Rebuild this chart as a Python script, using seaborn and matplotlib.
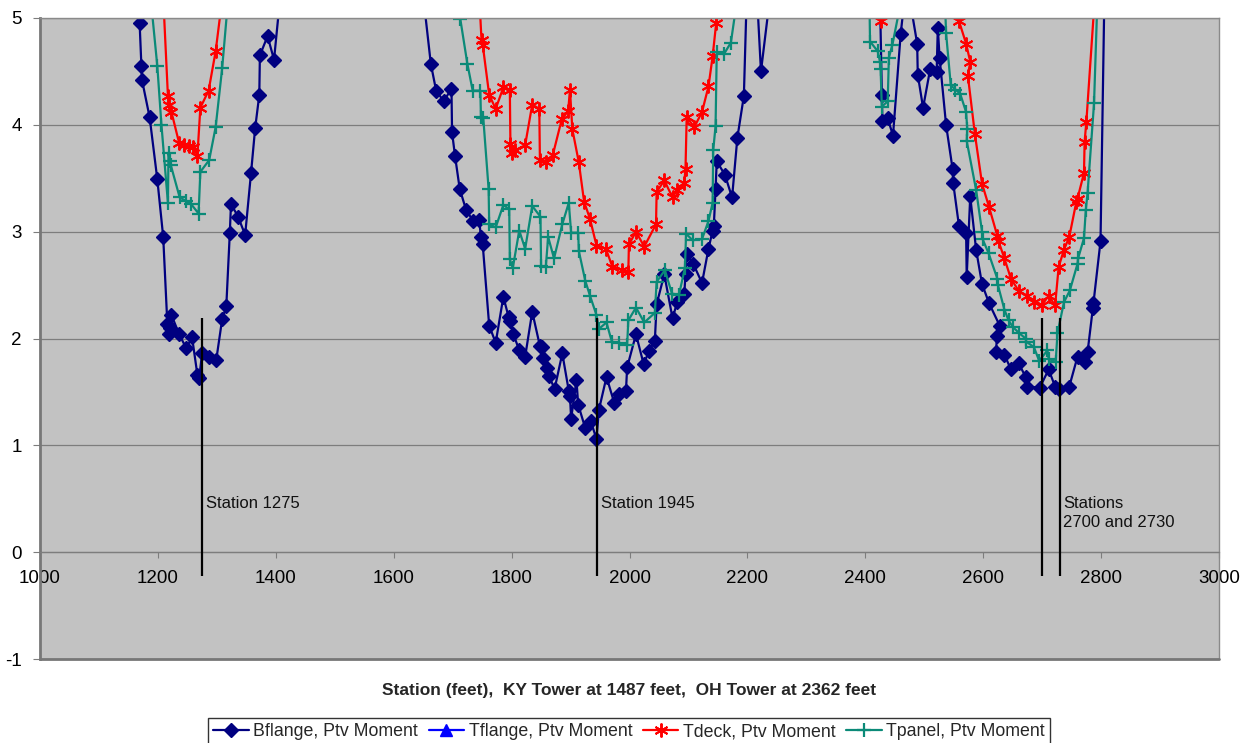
import matplotlib
matplotlib.use("Agg")
import matplotlib.pyplot as plt
import seaborn as sns

# Station (feet) and ratio values for each gauge series
bflange_station = [1167, 1169, 1172, 1173, 1186, 1199, 1209, 1216, 1218, 1220, 1223, 1236, 1248,
                   1258, 1267, 1270, 1275, 1287, 1299, 1309, 1316, 1322, 1324, 1336, 1348, 1358,
                   1365, 1372, 1373, 1386, 1397, 1420,
                   1640, 1663, 1672, 1685, 1698, 1699, 1704, 1712, 1723, 1735, 1745, 1748, 1751,
                   1762, 1773, 1786, 1795, 1798, 1803, 1813, 1823, 1835, 1848, 1851, 1853, 1860,
                   1863, 1873, 1886, 1897, 1899, 1901, 1910, 1913, 1925, 1934, 1944, 1948, 1961,
                   1974, 1983, 1994, 1996, 2011, 2024, 2033, 2043, 2046, 2059, 2073, 2081, 2093,
                   2095, 2097, 2108, 2123, 2134, 2141, 2143, 2146, 2148, 2162, 2174, 2183, 2194,
                   2205, 2223, 2245,
                   2420, 2428, 2429, 2438, 2447, 2460, 2470, 2488, 2489, 2498, 2510, 2521, 2523,
                   2526, 2537, 2548, 2549, 2559, 2571, 2572, 2578, 2588, 2598, 2610, 2628, 2623,
                   2622, 2636, 2647, 2660, 2672, 2675, 2696, 2711, 2722, 2728, 2746, 2760, 2773,
                   2777, 2786, 2787, 2799, 2815]
bflange_value = [8.0, 4.95, 4.55, 4.42, 4.07, 3.49, 2.95, 2.14, 2.04, 2.10, 2.22, 2.04, 1.91,
                 2.01, 1.66, 1.63, 1.86, 1.83, 1.80, 2.18, 2.30, 2.99, 3.26, 3.14, 2.97, 3.55,
                 3.97, 4.28, 4.65, 4.83, 4.61, 5.9,
                 5.7, 4.57, 4.32, 4.22, 4.34, 3.93, 3.71, 3.40, 3.20, 3.10, 3.11, 2.95, 2.88,
                 2.12, 1.96, 2.39, 2.20, 2.16, 2.04, 1.89, 1.83, 2.25, 1.93, 1.92, 1.82, 1.72,
                 1.65, 1.53, 1.86, 1.51, 1.46, 1.25, 1.61, 1.38, 1.16, 1.23, 1.06, 1.33, 1.64,
                 1.40, 1.48, 1.51, 1.73, 2.04, 1.76, 1.88, 1.98, 2.32, 2.60, 2.19, 2.34, 2.42,
                 2.60, 2.79, 2.70, 2.52, 2.84, 3.01, 3.05, 3.40, 3.66, 3.53, 3.32, 3.88, 4.27,
                 6.4, 4.50, 5.5,
                 6.6, 4.28, 4.04, 4.06, 3.90, 4.85, 5.35, 4.76, 4.47, 4.16, 4.52, 4.49, 4.91,
                 4.63, 4.00, 3.59, 3.46, 3.05, 2.99, 2.58, 3.33, 2.83, 2.51, 2.33, 2.12, 2.02,
                 1.87, 1.85, 1.71, 1.77, 1.64, 1.55, 1.54, 1.71, 1.55, 1.53, 1.55, 1.83, 1.78,
                 1.87, 2.29, 2.33, 2.91, 8.5]

tflange_station = []
tflange_value = []

tdeck_station = [1205, 1217, 1219, 1223, 1236, 1244, 1253, 1260, 1267, 1272, 1286, 1298, 1315,
                 1740, 1749, 1751, 1762, 1773, 1786, 1797, 1798, 1800, 1806, 1823, 1835, 1847,
                 1848, 1858, 1870, 1885, 1896, 1899, 1903, 1914, 1923, 1933, 1944, 1960, 1971,
                 1987, 1998, 1999, 2011, 2025, 2045, 2046, 2059, 2073, 2081, 2093, 2095, 2097,
                 2110, 2123, 2134, 2141, 2147, 2155,
                 2420, 2427, 2435,
                 2550, 2559, 2571, 2578, 2574, 2586, 2598, 2610, 2624, 2626, 2636, 2647, 2661,
                 2675, 2686, 2699, 2711, 2722, 2728, 2737, 2746, 2758, 2760, 2771, 2772, 2775,
                 2795]
tdeck_value = [5.66, 4.27, 4.19, 4.12, 3.83, 3.81, 3.80, 3.79, 3.71, 4.16, 4.32, 4.69, 5.44,
               5.74, 4.79, 4.75, 4.28, 4.15, 4.35, 4.33, 3.82, 3.74, 3.76, 3.81, 4.19, 4.15,
               3.67, 3.65, 3.72, 4.05, 4.13, 4.33, 3.96, 3.65, 3.28, 3.12, 2.87, 2.84, 2.67,
               2.64, 2.62, 2.88, 3.00, 2.86, 3.07, 3.37, 3.48, 3.32, 3.39, 3.46, 3.59, 4.07,
               3.98, 4.12, 4.36, 4.64, 4.95, 6.0,
               6.0, 4.97, 6.0,
               5.5, 4.97, 4.76, 4.59, 4.46, 3.91, 3.45, 3.23, 2.96, 2.91, 2.75, 2.56, 2.44,
               2.40, 2.34, 2.31, 2.40, 2.31, 2.67, 2.83, 2.95, 3.28, 3.31, 3.55, 3.84, 4.03,
               5.65]

tpanel_station = [1185, 1199, 1206, 1217, 1218, 1220, 1222, 1237, 1247, 1256, 1269, 1272, 1287,
                  1298, 1309, 1325,
                  1705, 1713, 1725, 1734, 1747, 1748, 1752, 1761, 1762, 1773, 1786, 1796, 1797,
                  1802, 1813, 1823, 1835, 1849, 1850, 1858, 1862, 1872, 1886, 1897, 1901, 1913,
                  1914, 1925, 1933, 1944, 1948, 1961, 1970, 1983, 1996, 1998, 2011, 2025, 2043,
                  2046, 2060, 2072, 2084, 2094, 2096, 2107, 2123, 2134, 2141, 2142, 2146, 2148,
                  2160, 2172, 2185,
                  2405, 2408, 2421, 2425, 2426, 2428, 2438, 2440, 2446, 2465,
                  2530, 2537, 2545, 2553, 2561, 2571, 2573, 2572, 2588, 2598, 2599, 2609, 2624,
                  2625, 2636, 2643, 2650, 2661, 2672, 2673, 2686, 2695, 2709, 2711, 2723, 2726,
                  2737, 2747, 2760, 2761, 2771, 2774, 2777, 2788, 2800]
tpanel_value = [5.34, 4.55, 4.00, 3.27, 3.74, 3.66, 3.62, 3.32, 3.29, 3.26, 3.17, 3.56, 3.67,
                3.98, 4.53, 5.55,
                6.0, 4.99, 4.57, 4.32, 4.32, 4.07, 4.06, 3.40, 3.07, 3.04, 3.25, 3.21, 2.74,
                2.66, 3.01, 2.84, 3.24, 3.14, 2.68, 2.67, 2.95, 2.75, 3.07, 3.27, 2.99, 2.99,
                2.82, 2.54, 2.40, 2.22, 2.09, 2.15, 1.97, 1.96, 1.94, 2.17, 2.29, 2.15, 2.24,
                2.53, 2.64, 2.42, 2.41, 2.66, 2.98, 2.92, 2.93, 3.10, 3.27, 3.76, 3.99, 4.68,
                4.66, 4.77, 5.27,
                6.0, 4.78, 4.69, 4.59, 4.52, 4.17, 4.22, 4.63, 4.75, 5.28,
                6.0, 4.86, 4.37, 4.33, 4.29, 4.12, 3.96, 3.85, 3.39, 3.00, 2.93, 2.80, 2.56,
                2.50, 2.27, 2.17, 2.11, 2.05, 2.00, 1.97, 1.92, 1.79, 1.89, 1.81, 1.78, 2.05,
                2.34, 2.45, 2.70, 2.75, 2.94, 3.20, 3.36, 4.20, 6.24]

# Marked stations
marked_stations = [1275, 1945, 2700, 2730]
station_notes = [(1275, ["Station 1275"]), (1945, ["Station 1945"]),
                 (2730, ["Stations", "2700 and 2730"])]

x_ticks = [1000, 1200, 1400, 1600, 1800, 2000, 2200, 2400, 2600, 2800, 3000]
y_ticks = [-1, 0, 1, 2, 3, 4, 5]

sns.set_theme(style="white")
regular = ["Liberation Sans", "DejaVu Sans"]
plt.rcParams["font.family"] = regular

fig = plt.figure(figsize=(12.46, 7.43), dpi=100, facecolor="white")
ax = fig.add_axes([40 / 1246, 84 / 743, 1179 / 1246, 641 / 743])
ax.set_facecolor("#c2c2c2")

NAVY = "#000080"
BLUE = "#0000ff"
RED = "#ff0000"
TEAL = "#0b8a78"

series = [
    ("Bflange, Ptv Moment", bflange_station, bflange_value, NAVY, "D", 7, 1.0),
    ("Tflange, Ptv Moment", tflange_station, tflange_value, BLUE, "^", 8, 1.0),
    ("Tdeck, Ptv Moment", tdeck_station, tdeck_value, RED, (6, 2, 0), 10, 1.4),
    ("Tpanel, Ptv Moment", tpanel_station, tpanel_value, TEAL, "+", 10, 1.6),
]

handles = []
for label, xs, ys, color, marker, ms, mew in series:
    if len(xs):
        sns.lineplot(x=xs, y=ys, ax=ax, sort=False, estimator=None, color=color,
                     linewidth=1.6, marker=marker, markersize=ms, legend=False,
                     markeredgewidth=mew, markeredgecolor=color, markerfacecolor=color)
    h, = ax.plot([], [], color=color, linewidth=1.6, marker=marker, markersize=ms,
                 markeredgewidth=mew, markeredgecolor=color, markerfacecolor=color, label=label)
    handles.append(h)
if ax.get_legend() is not None:
    ax.get_legend().remove()

# Vertical station markers and their notes
ax.vlines(marked_stations, -0.22, 2.19, color="black", linewidth=1.6, zorder=5)
line_step = 19 / 106.75
for st, lines in station_notes:
    for i, txt in enumerate(lines):
        ax.text(st + 6, 0.46 - i * line_step, txt, ha="left", va="center",
                fontsize=12, color="#111111")

ax.set_xlim(1000, 3000)
ax.set_ylim(-1, 5)
ax.set_xticks(x_ticks)
ax.set_yticks(y_ticks)
ax.set_xticklabels([str(v) for v in x_ticks])
ax.set_yticklabels([str(v) for v in y_ticks])
ax.grid(axis="y", color="#7d7d7d", linewidth=0.9)
ax.grid(axis="x", visible=False)
ax.set_axisbelow(True)
ax.set_xlabel("")
ax.set_ylabel("")

for side in ["right", "top"]:
    ax.spines[side].set_visible(True)
    ax.spines[side].set_color("#8a8a8a")
    ax.spines[side].set_linewidth(1.0)
ax.spines["bottom"].set_position(("data", 0))
ax.spines["bottom"].set_color("#7d7d7d")
ax.spines["bottom"].set_linewidth(0.9)
ax.axhline(-1, color="#777777", linewidth=2.0, clip_on=False, zorder=6)
ax.spines["left"].set_visible(True)
ax.spines["left"].set_color("#777777")
ax.spines["left"].set_linewidth(2.0)
ax.tick_params(axis="x", direction="out", length=4, width=0.8, color="#7d7d7d", pad=9,
               bottom=True, labelsize=13.5, labelcolor="black")
ax.tick_params(axis="y", direction="out", length=5, width=0.8, color="#7d7d7d", pad=8,
               left=True, labelsize=13.5, labelcolor="black")

fig.text(629 / 1246, 1 - 690 / 743,
         "Station (feet),  KY Tower at 1487 feet,  OH Tower at 2362 feet",
         ha="center", va="center", fontsize=12.5, fontweight="bold")

leg = fig.legend(handles=handles, loc="center", bbox_to_anchor=(629 / 1246, 1 - 732 / 743),
                 ncol=4, frameon=True, fancybox=False, edgecolor="black",
                 prop={"size": 12.8}, handlelength=2.0,
                 columnspacing=0.6, handletextpad=0.25, borderpad=0.3, numpoints=1)
leg.get_frame().set_linewidth(1.0)

fig.savefig("out.png", dpi=100, facecolor="white")
